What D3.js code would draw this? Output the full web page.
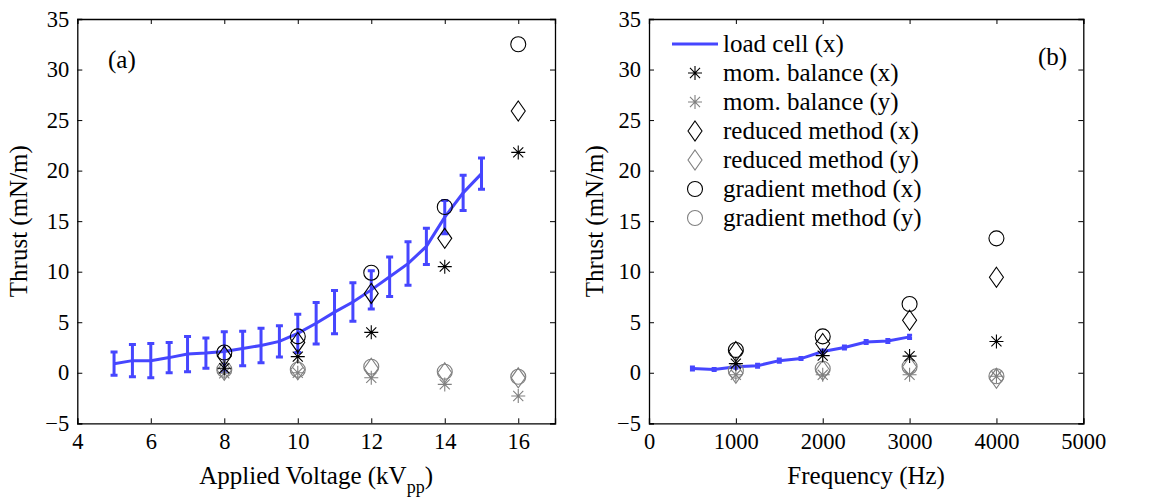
<!DOCTYPE html>
<html>
<head>
<meta charset="utf-8">
<script src="https://cdn.jsdelivr.net/npm/d3@7"></script>
<style>
  body { margin: 0; background: white; }
</style>
</head>
<body>
<div id="chart"></div>
<script>
// ---- data: panel (a), thrust vs applied voltage
let voltLoad = [5, 5.5, 6, 6.5, 7, 7.5, 8, 8.5, 9, 9.5, 10, 10.5, 11, 11.5, 12, 12.5, 13, 13.5, 14, 14.5, 15];
let voltLoadVal = [0.9, 1.2, 1.2, 1.5, 1.85, 1.95, 2.1, 2.4, 2.7, 3.1, 3.9, 4.9, 6.0, 7.0, 8.2, 9.5, 10.8, 12.5, 15.4, 17.8, 19.7];
let voltLoadErr = [1.15, 1.6, 1.7, 1.5, 1.75, 1.5, 1.95, 1.7, 1.7, 1.55, 1.9, 2.05, 2.15, 1.9, 1.9, 1.95, 2.15, 1.8, 1.65, 1.75, 1.55];

let voltPts = [8, 10, 12, 14, 16];
let voltMomX = [0.45, 1.6, 4.0, 10.5, 21.8];
let voltMomY = [-0.05, 0.0, -0.5, -1.15, -2.3];
let voltRedX = [1.65, 3.0, 7.85, 13.3, 25.9];
let voltRedY = [0.25, 0.3, 0.45, 0.0, -0.5];
let voltGradX = [2.0, 3.6, 9.9, 16.4, 32.5];
let voltGradY = [0.3, 0.3, 0.6, 0.1, -0.4];

// ---- data: panel (b), thrust vs frequency
let freqLoad = [500, 750, 1000, 1250, 1500, 1750, 2000, 2250, 2500, 2750, 3000];
let freqLoadVal = [0.43, 0.33, 0.6, 0.7, 1.2, 1.4, 2.1, 2.5, 3.05, 3.15, 3.55];
let freqLoadErr = [0.15, 0.1, 0.15, 0.15, 0.15, 0.1, 0.15, 0.15, 0.15, 0.15, 0.15];

let freqPts = [1000, 2000, 3000, 4000];
let freqMomX = [0.9, 1.7, 1.65, 3.1];
let freqMomY = [-0.2, -0.2, -0.2, -0.35];
let freqRedX = [2.1, 2.9, 5.2, 9.45];
let freqRedY = [-0.05, 0.25, 0.6, -0.55];
let freqGradX = [2.25, 3.6, 6.8, 13.3];
let freqGradY = [0.2, 0.4, 0.6, -0.35];

let yTicks = [-5, 0, 5, 10, 15, 20, 25, 30, 35];
let voltTicks = [4, 6, 8, 10, 12, 14, 16];
let freqTicks = [0, 1000, 2000, 3000, 4000, 5000];

let legendNames = ["load cell (x)", "mom. balance (x)", "mom. balance (y)", "reduced method (x)",
  "reduced method (y)", "gradient method (x)", "gradient method (y)"];

let w = 1165;
let h = 497;
let blue = "#4646ff";
let gray = "#808080";
let font = "Liberation Serif";
let top_ = 19, bottom_ = 423.3;

let svg = d3.select("#chart").append("svg")
  .attr("width", w)
  .attr("height", h)
  .attr("font-family", font);

// marker drawing
function drawMarker(g, kind, x, y, color) {
  if (kind === "circle") {
    g.append("circle").attr("cx", x).attr("cy", y).attr("r", 7.5)
      .attr("fill", "none").attr("stroke", color).attr("stroke-width", 1.1);
  } else if (kind === "diamond") {
    let dx = 7, dy = 10;
    g.append("path")
      .attr("d", `M${x},${y - dy}L${x + dx},${y}L${x},${y + dy}L${x - dx},${y}Z`)
      .attr("fill", "none").attr("stroke", color).attr("stroke-width", 1.1);
  } else if (kind === "star") {
    let r = 7, d = r * 0.72;
    g.append("path")
      .attr("d", `M${x - r},${y}L${x + r},${y}M${x},${y - r}L${x},${y + r}` +
        `M${x - d},${y - d}L${x + d},${y + d}M${x - d},${y + d}L${x + d},${y - d}`)
      .attr("fill", "none").attr("stroke", color).attr("stroke-width", 1.1);
  }
}

function makePanel(opts) {
  let x = d3.scaleLinear().domain(opts.xDomain).range([opts.left, opts.right]);
  let y = d3.scaleLinear().domain([-5, 35]).range([bottom_, top_]);
  let g = svg.append("g");

  // frame + inward ticks on all four sides
  g.append("g").attr("transform", `translate(0,${bottom_})`)
    .call(d3.axisBottom(x).tickValues(opts.xTicks).tickSize(-5).tickPadding(10).tickFormat(d3.format("d")));
  g.append("g").attr("transform", `translate(0,${top_})`)
    .call(d3.axisTop(x).tickValues(opts.xTicks).tickSize(-5).tickFormat(""));
  g.append("g").attr("transform", `translate(${opts.left},0)`)
    .call(d3.axisLeft(y).tickValues(yTicks).tickSize(-5).tickPadding(8));
  g.append("g").attr("transform", `translate(${opts.right},0)`)
    .call(d3.axisRight(y).tickValues(yTicks).tickSize(-5).tickFormat(""));
  g.selectAll(".domain").attr("stroke", "black").attr("stroke-width", 1.3);
  g.selectAll(".tick line").attr("stroke", "black");
  g.selectAll("g").attr("font-family", font).attr("font-size", 22.5);
  g.selectAll(".tick text").attr("fill", "black");

  // load cell with error bars
  let lc = opts.load.map((v, i) => ({ x: v, y: opts.loadVal[i], e: opts.loadErr[i] }));
  g.append("path").datum(lc)
    .attr("fill", "none").attr("stroke", blue).attr("stroke-width", 3)
    .attr("d", d3.line().x(d => x(d.x)).y(d => y(d.y)));
  let eb = g.append("g").attr("stroke", blue).attr("stroke-width", 3).attr("fill", "none");
  lc.forEach(d => {
    let cx = x(d.x), y0 = y(d.y - d.e), y1 = y(d.y + d.e), c = opts.cap;
    eb.append("path").attr("d", `M${cx},${y0}L${cx},${y1}M${cx - c},${y0}L${cx + c},${y0}M${cx - c},${y1}L${cx + c},${y1}`);
  });

  // scatter series
  let series = [
    [opts.momY, "star", gray], [opts.redY, "diamond", gray], [opts.gradY, "circle", gray],
    [opts.momX, "star", "black"], [opts.redX, "diamond", "black"], [opts.gradX, "circle", "black"]
  ];
  let mg = g.append("g");
  series.forEach(s => {
    opts.pts.forEach((p, i) => drawMarker(mg, s[1], x(p), y(s[0][i]), s[2]));
  });

  // panel tag
  g.append("text").attr("x", opts.tagX).attr("y", opts.tagY).attr("font-size", 25).text(opts.tag);

  // axis labels
  let xl = g.append("text").attr("x", (opts.left + opts.right) / 2).attr("y", 484)
    .attr("text-anchor", "middle").attr("font-size", 25);
  xl.append("tspan").text(opts.xLabel);
  if (opts.xSub) {
    xl.append("tspan").attr("font-size", 18).attr("dy", 9).text(opts.xSub);
    xl.append("tspan").attr("dy", -9).text(")");
  }
  g.append("text")
    .attr("transform", `translate(${opts.left - opts.yLabelGap},${(top_ + bottom_) / 2}) rotate(-90)`)
    .attr("text-anchor", "middle").attr("font-size", 25)
    .text("Thrust (mN/m)");
  return { x, y, g };
}

makePanel({
  xDomain: [4, 17], left: 77.3, right: 555, xTicks: voltTicks, cap: 3.5, yLabelGap: 50,
  load: voltLoad, loadVal: voltLoadVal, loadErr: voltLoadErr,
  pts: voltPts, momX: voltMomX, momY: voltMomY, redX: voltRedX, redY: voltRedY, gradX: voltGradX, gradY: voltGradY,
  tag: "(a)", tagX: 108, tagY: 68, xLabel: "Applied Voltage (kV", xSub: "pp"
});

makePanel({
  xDomain: [0, 5000], left: 649, right: 1083.3, xTicks: freqTicks, cap: 2.5, yLabelGap: 46,
  load: freqLoad, loadVal: freqLoadVal, loadErr: freqLoadErr,
  pts: freqPts, momX: freqMomX, momY: freqMomY, redX: freqRedX, redY: freqRedY, gradX: freqGradX, gradY: freqGradY,
  tag: "(b)", tagX: 1038, tagY: 65, xLabel: "Frequency (Hz)"
});

// legend (panel b)
let legend = svg.append("g");
let legendKinds = [["line", blue], ["star", "black"], ["star", gray], ["diamond", "black"],
  ["diamond", gray], ["circle", "black"], ["circle", gray]];
legendNames.forEach((name, i) => {
  let ly = 44 + i * 29;
  let k = legendKinds[i];
  if (k[0] === "line") {
    legend.append("line").attr("x1", 672).attr("x2", 718).attr("y1", ly).attr("y2", ly)
      .attr("stroke", k[1]).attr("stroke-width", 3);
  } else {
    drawMarker(legend, k[0], 695, ly, k[1]);
  }
  legend.append("text").attr("x", 723).attr("y", ly).attr("dy", "0.32em")
    .attr("font-size", 25).text(name);
});
</script>
</body>
</html>
